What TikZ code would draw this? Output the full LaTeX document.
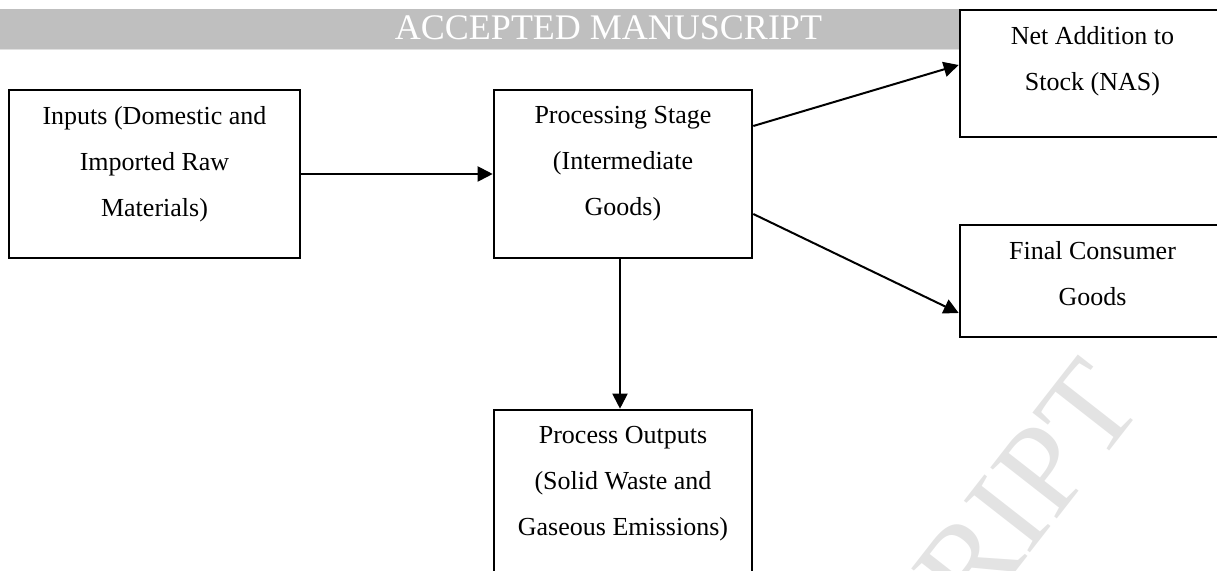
\documentclass[tikz,border=0pt]{standalone}
\usepackage{fontspec}
\setmainfont{Liberation Serif}
\usetikzlibrary{arrows.meta, positioning, calc}

\begin{document}
\begin{tikzpicture}[x=0.5pt, y=-0.5pt,
    stage/.style={draw, fill=white, line width=1.3pt, inner sep=0pt},
    stage text/.style={align=center, inner sep=0pt, font=\fontsize{13}{23}\selectfont},
    flow/.style={-{Triangle[length=7.5pt, width=7.5pt]}, line width=1pt}]

    \useasboundingbox (0,0) rectangle (1217,571);
    \clip (0,0) rectangle (1217,571);

    % Watermark and header band
    \node[black!11, font=\fontsize{64}{64}\selectfont, rotate=52, anchor=base west, inner sep=0pt] (mark) at (975,624) {RIPT};
    \fill[black!25] (0,9) rectangle (1217,49);
    \draw[black!12, line width=0.6pt] (0,49.5) -- (1217,49.5);
    \node[white, font=\fontsize{18}{18}\selectfont, anchor=base, inner sep=0pt] (banner) at (608.5,40) {ACCEPTED MANUSCRIPT};

    % Boxes
    \node[stage, minimum width=145.5pt, minimum height=84pt] (inputs) at (154.5,174) {};
    \node[stage, minimum width=129pt, minimum height=84pt] (proc) at (623,174) {};
    \node[stage, minimum width=132.5pt, minimum height=63.5pt] (nas) at (1092.5,73.5) {};
    \node[stage, minimum width=132.5pt, minimum height=56pt] (final) at (1092.5,281) {};
    \node[stage, minimum width=129pt, minimum height=84pt] (outputs) at (623,494) {};

    % Box texts
    \node[stage text, below=8.6pt of inputs.north] (inputs text) {Inputs (Domestic and\\Imported Raw\\Materials)};
    \node[stage text, below=8.6pt of proc.north] (proc text) {Processing Stage\\(Intermediate\\Goods)};
    \node[stage text, below=8.6pt of nas.north] (nas text) {Net Addition to\\Stock (NAS)};
    \node[stage text, below=8.6pt of final.north] (final text) {Final Consumer\\Goods};
    \node[stage text, below=8.6pt of outputs.north] (outputs text) {Process Outputs\\(Solid Waste and\\Gaseous Emissions)};

    % Flows
    \draw[flow] (inputs) -- (proc);
    \draw[flow] ([yshift=24pt]proc.east) -- ([yshift=4.25pt]nas.west);
    \draw[flow] ([yshift=-20pt]proc.east) -- ([yshift=-16pt]final.west);
    \draw[flow] ([xshift=-1.5pt]proc.south) -- ([xshift=-1.5pt]outputs.north);
\end{tikzpicture}
\end{document}
